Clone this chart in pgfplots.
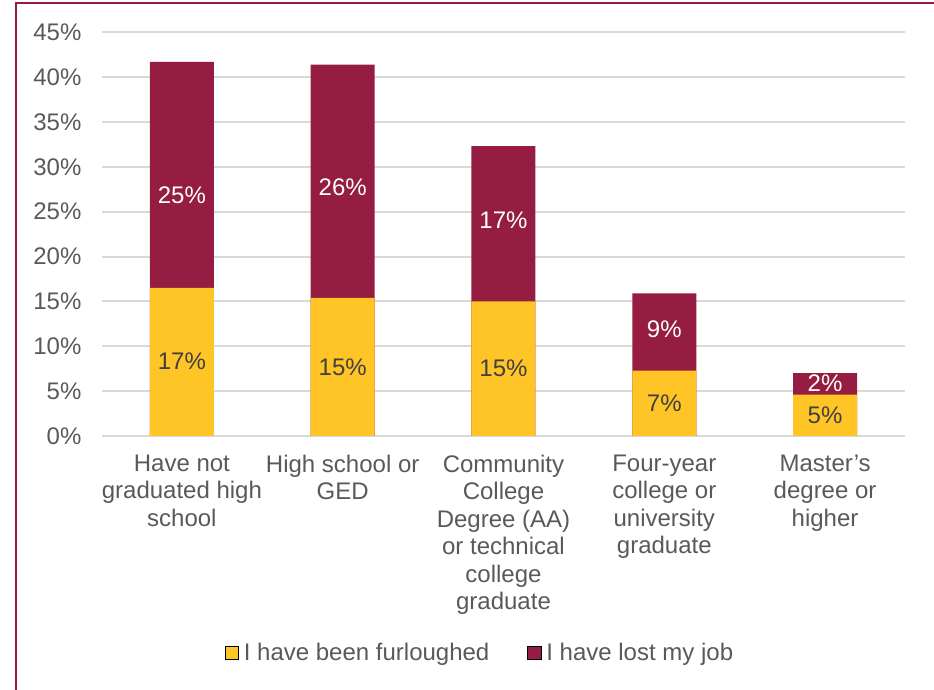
\documentclass[border=0pt]{standalone}
\usepackage{pgfplots}
\pgfplotsset{compat=1.18}
\usepackage{pgfplotstable}
\usepackage{fontspec}
\setmainfont{Liberation Sans}
\definecolor{furl}{HTML}{FFC425}
\definecolor{lost}{HTML}{941D41}
\definecolor{gridc}{HTML}{D9D9D9}
\definecolor{txt}{HTML}{595959}
\definecolor{lbl}{HTML}{404040}

% values in percent (furloughed, total = furloughed + lost job)
\pgfplotstableread{
x furl lost total
0 16.5 25.2 41.7
1 15.4 26.0 41.4
2 15.0 17.3 32.3
3 7.3 8.6 15.9
4 4.6 2.4 7.0
}\data

% label positions and label texts
\pgfplotstableread{
x fy fl ly ll
0 8.3 17\% 26.8 25\%
1 7.65 15\% 27.7 26\%
2 7.6 15\% 24.0 17\%
3 3.6 7\% 11.9 9\%
4 2.35 5\% 5.9 2\%
}\labels

\begin{document}
\begin{tikzpicture}
\path[use as bounding box] (0,0) rectangle (467pt,345pt);
\draw[lost, line width=1pt] (7.9pt,0) -- (7.9pt,343.5pt) -- (467pt,343.5pt);
\begin{axis}[
  at={(50.75pt,127pt)}, anchor=south west,
  scale only axis, width=402pt, height=201.85pt,
  xmin=-0.5, xmax=4.5, ymin=0, ymax=45,
  axis line style={draw=none},
  tick style={draw=none},
  ymajorgrids, grid style={gridc, line width=1pt},
  ytick={0,5,...,45},
  yticklabel={\pgfmathprintnumber{\tick}\%},
  /pgf/number format/assume math mode=true,
  xtick={0,1,2,3,4},
  xticklabels={{Have not\\graduated high\\school},{High school or\\GED},{Community\\College\\Degree (AA)\\or technical\\college\\graduate},{Four-year\\college or\\university\\graduate},{Master’s\\degree or\\higher}},
  xticklabel style={align=center, text=txt, font=\fontsize{12}{13.7}\selectfont, anchor=north, yshift=-6pt},
  yticklabel style={text=txt, font=\fontsize{12}{13.5}\selectfont, anchor=east, xshift=-6.5pt},
  legend image code/.code={\fill[#1] (0pt,-3.3pt) rectangle (6.6pt,3.3pt);},
  legend style={at={(0.4714,-0.5375)}, anchor=center, draw=none, fill=none,
    font=\fontsize{12}{13.5}\selectfont, text=txt, legend columns=2,
    /tikz/every even column/.append style={column sep=17.5pt},
    /tikz/every odd column/.append style={column sep=1pt},
    nodes={inner sep=1.5pt}},
]
\addplot[ybar, bar width=32pt, bar shift=0pt, fill=lost, draw=none, forget plot] table[x=x, y=total]{\data};
\addplot[ybar, bar width=32pt, bar shift=0pt, fill=furl, draw=none, forget plot] table[x=x, y=furl]{\data};
\addplot[draw=none, mark=none, forget plot, nodes near coords, point meta=explicit symbolic,
  every node near coord/.append style={anchor=center, text=lbl, font=\fontsize{12}{13.5}\selectfont}]
  table[x=x, y=fy, meta=fl]{\labels};
\addplot[draw=none, mark=none, forget plot, nodes near coords, point meta=explicit symbolic,
  every node near coord/.append style={anchor=center, text=white, font=\fontsize{12}{13.5}\selectfont}]
  table[x=x, y=ly, meta=ll]{\labels};
\addlegendimage{fill=furl}
\addlegendentry{I have been furloughed}
\addlegendimage{fill=lost}
\addlegendentry{I have lost my job}
\end{axis}
\end{tikzpicture}
\end{document}
